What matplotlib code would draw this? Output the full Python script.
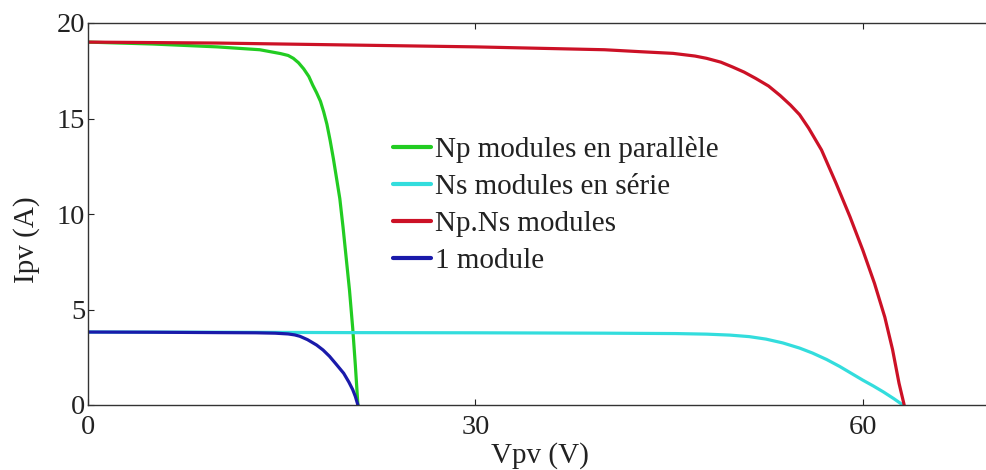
import matplotlib
matplotlib.use("Agg")
import matplotlib.pyplot as plt

# ---- data ----
v_par = [0, 5, 10, 13.3, 14.9, 15.5, 15.9, 16.3, 16.7, 17.1, 17.4, 17.7, 18.0, 18.25, 18.5,
         18.75, 19.0, 19.25, 19.5, 19.75, 20.0, 20.25, 20.5, 20.7, 20.9]
i_par = [19.0, 18.9, 18.75, 18.6, 18.4, 18.3, 18.15, 17.92, 17.6, 17.2, 16.75, 16.35, 15.9,
         15.35, 14.7, 13.85, 12.9, 11.85, 10.8, 9.3, 7.65, 6.0, 4.0, 2.1, 0.0]

v_ser = [0, 10, 20, 30, 40, 42.7, 45.5, 47.9, 49.7, 51.2, 52.5, 53.8, 55.1, 56.1, 57.2,
         58.2, 59.0, 60.0, 60.8, 61.6, 62.4, 63.1]
i_ser = [3.82, 3.81, 3.79, 3.78, 3.76, 3.75, 3.74, 3.71, 3.66, 3.58, 3.45, 3.25, 2.98,
         2.72, 2.38, 2.02, 1.7, 1.3, 1.0, 0.68, 0.33, 0.0]

v_all = [0, 10, 20, 30, 40, 42.7, 45.3, 47.0, 47.9, 49.0, 49.9, 50.8, 51.7, 52.7, 53.6,
         54.4, 55.1, 55.8, 56.8, 57.9, 59.0, 60.0, 60.9, 61.7, 62.3, 62.8, 63.2]
i_all = [19.0, 18.95, 18.85, 18.75, 18.6, 18.5, 18.41, 18.27, 18.15, 17.95, 17.7, 17.43,
         17.1, 16.7, 16.2, 15.7, 15.2, 14.5, 13.35, 11.65, 9.86, 8.1, 6.37, 4.6, 2.9, 1.14, 0.0]

v_one = [0, 5, 10, 13, 14.5, 15.5, 16.0, 16.4, 17.0, 17.7, 18.2, 18.7, 19.2, 19.8, 20.2,
         20.5, 20.7, 20.9]
i_one = [3.82, 3.81, 3.79, 3.78, 3.76, 3.72, 3.67, 3.6, 3.42, 3.14, 2.88, 2.55, 2.15, 1.66,
         1.2, 0.8, 0.45, 0.0]

labels = ["Np modules en parallèle", "Ns modules en série", "Np.Ns modules", "1 module"]
colors = ["#22cc22", "#33dddd", "#cc1126", "#1a1aaa"]
xticks = [0, 30, 60]
yticks = [0, 5, 10, 15, 20]

plt.rcParams['font.family'] = ['Liberation Serif', 'DejaVu Serif']

fig = plt.figure(figsize=(9.87, 4.70), dpi=100)
W, H = 987, 470
ax = fig.add_axes([88 / W, 1 - 405 / H, (992 - 88) / W, (405 - 23) / H])

series = [(v_par, i_par), (v_ser, i_ser), (v_all, i_all), (v_one, i_one)]
for (v, i), lab, col in zip(series, labels, colors):
    ax.plot(v, i, color=col, lw=2.3, label=lab, solid_capstyle='round',
            solid_joinstyle='round')

ax.set_xlim(0, 70)
ax.set_ylim(0, 20)
ax.set_xticks(xticks)
ax.set_yticks(yticks)
ax.tick_params(direction='in', length=4, width=0.8, top=True, right=True,
               labelsize=20.5, colors='#222222')
ax.tick_params(axis='y', pad=2)
ax.tick_params(axis='x', pad=7)
for s in ax.spines.values():
    s.set_color('#333333')
    s.set_linewidth(1.0)

ax.set_xlabel("Vpv (V)", fontsize=21, color='#222222')
ax.xaxis.set_label_coords(0.5, -0.097)
ax.set_ylabel("Ipv (A)", fontsize=21, color='#222222')
ax.yaxis.set_label_coords(-0.053, 0.432)

leg = ax.legend(loc='upper left', bbox_to_anchor=(393 / W, 1 - 136 / H),
                bbox_transform=fig.transFigure, frameon=False, fontsize=21,
                handlelength=1.3, handletextpad=0.15, labelspacing=0.36,
                borderpad=0, borderaxespad=0)
for t in leg.get_texts():
    t.set_color('#222222')
for l in leg.get_lines():
    l.set_linewidth(3)

fig.savefig("out.png", dpi=100)
